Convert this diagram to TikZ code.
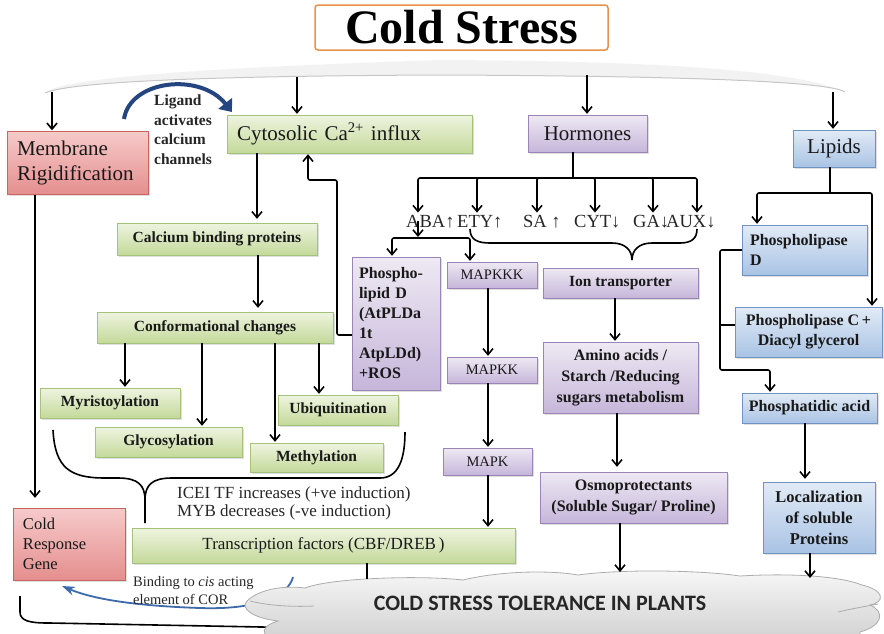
\documentclass[tikz,border=0pt]{standalone}
\usepackage{fontspec}
\setmainfont{Liberation Serif}
\newfontfamily\cloudfont{Carlito}
\usetikzlibrary{arrows.meta,shadows}

\definecolor{grnT}{HTML}{EEF4E0}
\definecolor{grnB}{HTML}{C4D99A}
\definecolor{grnD}{HTML}{A4C279}
\definecolor{redT}{HTML}{F6CACA}
\definecolor{redB}{HTML}{E58E8E}
\definecolor{redD}{HTML}{C86464}
\definecolor{purT}{HTML}{EEE9F3}
\definecolor{purB}{HTML}{C6B6DA}
\definecolor{purD}{HTML}{9A84B8}
\definecolor{bluT}{HTML}{E2EBF6}
\definecolor{bluB}{HTML}{A9C3E4}
\definecolor{bluD}{HTML}{6E93C4}
\definecolor{orng}{HTML}{E8914A}
\definecolor{navy}{HTML}{24457F}
\definecolor{corblue}{HTML}{3D6AA8}

\newcommand\fsz[2]{\fontsize{#1}{#2}\selectfont}

\tikzset{
  basebox/.style={rectangle, inner sep=2pt, align=center, text=black!90,
    drop shadow={opacity=0.25, shadow xshift=1.5pt, shadow yshift=-1.5pt}},
  gbox/.style={basebox, draw=grnD, top color=grnT, bottom color=grnB},
  rbox/.style={basebox, draw=redD, top color=redT, bottom color=redB},
  pbox/.style={basebox, draw=purD, top color=purT, bottom color=purB},
  bbox/.style={basebox, draw=bluD, top color=bluT, bottom color=bluB},
  small/.style={font=\bfseries\fsz{15.5}{19}},
  big/.style={font=\fsz{21}{25}},
  lbl/.style={inner sep=1pt, font=\fsz{18.5}{20}, text=black!85},
  ln/.style={line width=1.6pt, rounded corners=2pt},
  arr/.style={ln, -{Straight Barb[length=6pt,width=10pt]}, shorten >=1pt},
}

\begin{document}
\begin{tikzpicture}[x=1pt,y=-1pt]
\useasboundingbox (0,0) rectangle (884,633);

% grey band under the title
\fill[gray!10] (45,93) .. controls (60,78) and (200,68) .. (440,60)
  .. controls (680,61) and (800,72) .. (845,92)
  .. controls (830,82) and (700,76) .. (440,75)
  .. controls (200,76) and (70,82) .. (45,93) -- cycle;
\draw[gray!45, line width=1pt] (845,92) .. controls (830,82) and (700,76) .. (440,75)
  .. controls (200,76) and (70,82) .. (45,93);

% bottom bracket line
\draw[ln] (20,596) -- (20,610) .. controls (20,621) and (30,623) .. (50,623) -- (420,630);

% binding arrow (passes behind the cloud)
\coordinate (corS) at (293,577);
\coordinate (corE) at (62,586);
\draw[corblue, line width=1.8pt, -{Stealth[length=13pt,width=9pt]}]
  (corS) .. controls (288,597) and (255,610) .. (200,608)
  .. controls (140,606) and (95,600) .. (corE);

% cloud
\draw[top color=gray!6, bottom color=gray!38, draw=gray!65, line width=0.8pt]
  (247,601) .. controls (258,590) and (282,585) .. (305,588)
  .. controls (330,578) and (420,575) .. (463,580)
  .. controls (500,571) and (550,570) .. (578,575)
  .. controls (620,569) and (700,570) .. (740,576)
  .. controls (790,573) and (840,576) .. (862,585)
  .. controls (884,590) and (886,602) .. (870,605)
  .. controls (886,612) and (882,626) .. (860,632)
  -- (860,645) -- (290,645)
  .. controls (262,640) and (255,628) .. (278,621)
  .. controls (252,618) and (240,608) .. (247,601) -- cycle;
\draw[gray!65, line width=0.8pt] (250,601) .. controls (270,606) and (295,607) .. (314,606);
\draw[gray!65, line width=0.8pt] (838,612) .. controls (855,608) and (868,606) .. (878,604);
\node[font=\cloudfont\bfseries\fsz{22}{22}, text=black!85] (ctol) at (540,603) {COLD STRESS TOLERANCE IN PLANTS};
\coordinate (c1) at (367,579);
\coordinate (c2) at (620,573);
\coordinate (c3) at (810,579);

% title
\node[draw=orng, line width=1.5pt, rounded corners=3pt, fill=white,
  minimum width=293pt, minimum height=45pt, inner sep=0pt] (title) at (461.5,27.5)
  {\fsz{48}{48}\bfseries Cold Stress};

% first row
\node[rbox, big, minimum width=141pt, minimum height=63pt, inner xsep=10pt, text width=121pt, align=left]
  (memb) at (77.5,163) {Membrane\\Rigidification};
\node[gbox, big, minimum width=245pt, minimum height=38pt, inner xsep=10pt, text width=225pt, align=left]
  (cyto) at (349.5,134) {Cytosolic Ca\textsuperscript{2+} influx};
\node[pbox, big, minimum width=119pt, minimum height=37pt] (horm) at (587.5,133.5) {Hormones};
\node[bbox, big, minimum width=82pt, minimum height=37pt] (lipid) at (834,148.5) {Lipids};

% calcium branch
\node[gbox, small, minimum width=200pt, minimum height=32pt] (cbp) at (217,239) {Calcium binding proteins};
\node[gbox, small, minimum width=236pt, minimum height=31pt] (conf) at (215,327.5) {Conformational changes};
\node[gbox, small, minimum width=140pt, minimum height=30pt] (myri) at (110,403) {Myristoylation};
\node[gbox, small, minimum width=120pt, minimum height=30pt] (ubiq) at (338,410) {Ubiquitination};
\node[gbox, small, minimum width=147pt, minimum height=30pt] (glyc) at (168.5,442) {Glycosylation};
\node[gbox, small, minimum width=133pt, minimum height=29pt] (meth) at (316.5,457.5) {Methylation};
\node[rbox, font=\fsz{16.5}{20}, minimum width=112pt, minimum height=72pt, inner xsep=10pt, text width=92pt, align=left]
  (crg) at (69,544) {Cold\\Response\\Gene};
\node[gbox, font=\fsz{17}{20}, minimum width=383pt, minimum height=35pt] (tf) at (323.5,545.5)
  {Transcription factors (CBF/DREB\,)};

% hormone branch
\node[lbl, anchor=base west] (aba) at (405,227) {ABA↑};
\node[lbl, anchor=base west] (ety) at (456,227) {ETY↑};
\node[lbl, anchor=base west] (sa)  at (522,227) {SA ↑};
\node[lbl, anchor=base west] (cyt) at (573,227) {CYT↓};
\node[lbl, anchor=base west] (ga)  at (632,227) {GA↓};
\node[lbl, anchor=base west] (aux) at (665,227) {AUX↓};

\node[pbox, font=\bfseries\fsz{16}{20}, minimum width=88pt, minimum height=133pt, inner xsep=7pt, text width=74pt, align=left]
  (pld) at (396,323.5) {Phospho-\\lipid D\\(AtPLDa\\1t\\AtpLDd)\\+ROS};
\node[pbox, font=\fsz{14.5}{16}, minimum width=90pt, minimum height=26pt] (mkkk) at (492,275) {MAPKKK};
\node[pbox, font=\fsz{14.5}{16}, minimum width=90pt, minimum height=26pt] (mkk) at (492,370) {MAPKK};
\node[pbox, font=\fsz{14.5}{16}, minimum width=89pt, minimum height=27pt] (mk) at (487.5,461.5) {MAPK};
\node[pbox, small, minimum width=155pt, minimum height=30pt] (ion) at (620.5,283) {Ion transporter};
\node[pbox, font=\bfseries\fsz{16}{21}, minimum width=155pt, minimum height=71pt] (amino) at (620.5,377.5)
  {Amino acids /\\Starch /Reducing\\sugars metabolism};
\node[pbox, font=\bfseries\fsz{16}{21}, minimum width=187pt, minimum height=51pt] (osmo) at (633.5,497.5)
  {Osmoprotectants\\(Soluble Sugar/ Proline)};

% lipid branch
\node[bbox, font=\bfseries\fsz{16}{20}, minimum width=125pt, minimum height=50pt, inner xsep=8pt, text width=109pt, align=left]
  (pldb) at (804.5,250) {Phospholipase\\D};
\node[bbox, font=\bfseries\fsz{16}{20}, minimum width=147pt, minimum height=50pt] (plc) at (808.5,332)
  {Phospholipase C\,+\\Diacyl glycerol};
\node[bbox, font=\bfseries\fsz{16}{20}, minimum width=135pt, minimum height=30pt] (pa) at (809.5,408) {Phosphatidic acid};
\node[bbox, font=\bfseries\fsz{16.5}{21}, minimum width=112pt, minimum height=71pt] (loc) at (819,517.5)
  {Localization\\of soluble\\Proteins};

% free texts
\node[anchor=north west, align=left, inner sep=0pt, font=\bfseries\fsz{15.5}{19.5}, text=black!85] (lig) at (154,95)
  {Ligand\\activates\\calcium\\channels};
\node[anchor=north west, align=left, inner sep=0pt, font=\fsz{17}{18.5}, text=black!85] (ice) at (177,486)
  {ICEI TF increases (+ve induction)\\MYB decreases (-ve induction)};
\node[anchor=north west, align=left, inner sep=0pt, font=\fsz{14.5}{18}, text=black!85] (cor) at (133,576)
  {Binding to \textit{cis} acting\\element of COR};

% ligand arrow
\draw[navy, line width=4pt, -{Triangle[length=11pt,width=17pt]}]
  (124,119) .. controls (130,80) and (200,72) .. (232,112);

% arrows from the band
\coordinate (s1) at (52,92);
\coordinate (s2) at (297,77);
\coordinate (s3) at (587,75);
\coordinate (s4) at (833,92);
\draw[arr] (s1) -- (s1 |- memb.north);
\draw[arr] (s2) -- (s2 |- cyto.north);
\draw[arr] (s3) -- (s3 |- horm.north);
\draw[arr] (s4) -- (s4 |- lipid.north);

% calcium connectors
\draw[arr, shorten >=10pt] (memb.south -| 35,0) -- (crg.north -| 35,0);
\draw[arr, shorten >=4pt] (cyto.south -| 257,0) -- (cbp.north -| 257,0);
\draw[arr, shorten >=4pt] (cbp.south -| 258,0) -- (conf.north -| 258,0);
\draw[arr] (conf.south -| 125,0) -- (myri.north -| 125,0);
\draw[arr] (conf.south -| 202,0) -- (glyc.north -| 202,0);
\draw[arr] (conf.south -| 275,0) -- (meth.north -| 275,0);
\draw[arr] (conf.south -| 319,0) -- (ubiq.north -| 319,0);
\draw[arr] (pld.west |- 0,335) -- (337,335) -- (337,180) -- (308,180) -- (cyto.south -| 308,0);

% brace to the transcription factors
\draw[line width=1.6pt] (53,430) .. controls (55,468) and (70,478) .. (105,478) -- (118,478)
  .. controls (138,478) and (145,485) .. (145,500) -- (145,523);
\draw[line width=1.6pt] (145,500) .. controls (145,485) and (152,478) .. (172,478) -- (380,478)
  .. controls (398,478) and (405,460) .. (405,432);

% hormone connectors
\coordinate (hb) at (573,178);
\draw[ln] (horm.south -| hb) -- (hb);
\draw[arr] (hb) -| (aba.north -| 418,0);
\draw[arr] (hb) -| (ety.north -| 477,0);
\draw[arr] (hb) -| (sa.north -| 537,0);
\draw[arr] (hb) -| (cyt.north -| 595,0);
\draw[arr] (hb) -| (ga.north -| 653,0);
\draw[arr] (hb) -| (aux.north -| 697,0);
\coordinate (ab) at (418,238);
\draw[arr] (aba.center -| ab) -- (ab);
\draw[arr] (ab) -| (pld.north -| 392,0);
\draw[arr] (ab) -| (mkkk.north -| 470,0);
\draw[line width=1.6pt] (470,229) .. controls (470,240) and (478,243) .. (490,243) -- (612,243)
  .. controls (625,243) and (632,250) .. (632,260)
  .. controls (632,250) and (639,243) .. (652,243) -- (680,243)
  .. controls (692,243) and (697,238) .. (697,229);
\draw[arr] (mkkk.south -| 488,0) -- (mkk.north -| 488,0);
\draw[arr] (mkk.south -| 488,0) -- (mk.north -| 488,0);
\draw[arr] (mk.south -| 488,0) -- (tf.north -| 488,0);
\draw[arr] (ion.south -| 615,0) -- (amino.north -| 615,0);
\draw[arr, shorten >=5pt] (amino.south -| 617,0) -- (osmo.north -| 617,0);
\draw[arr] (osmo.south -| c2) -- (c2);
\draw[ln] (tf.south -| c1) -- (c1);

% lipid connectors
\coordinate (lb) at (830,193);
\draw[ln] (lipid.south -| lb) -- (lb);
\draw[arr] (lb) -| (pldb.north -| 757,0);
\draw[arr] (lb) -| (plc.north -| 872,0);
\draw[arr] (pldb.west) -- (720,250) -- (720,370) -- (770,370) -- (pa.north -| 770,0);
\draw[ln] (720,325) -- (plc.west |- 0,325);
\draw[arr, shorten >=3pt] (pa.south -| 805,0) -- (loc.north -| 805,0);
\draw[arr] (loc.south -| c3) -- (c3);
\end{tikzpicture}
\end{document}
